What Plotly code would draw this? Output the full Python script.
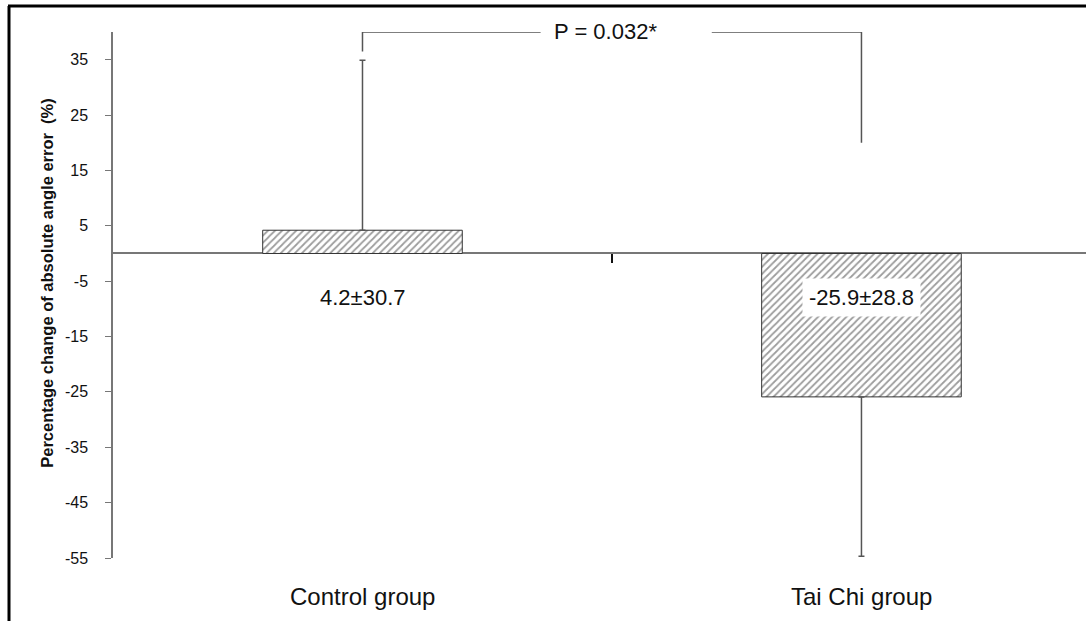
import plotly.graph_objects as go

# Group means and standard deviations (% change of absolute angle error)
groups = ["Control group", "Tai Chi group"]
means = [4.2, -25.9]
sds = [30.7, 28.8]
value_labels = ["4.2±30.7", "-25.9±28.8"]
p_label = "P = 0.032*"
y_title = "<b>Percentage change of absolute angle error \u00a0(%)</b>"

# Significance bracket: top level, foot levels, and the gap left for the label
bracket_top = 40
bracket_feet = [36.5, 20]
bracket_gap = [0.357, 0.70]

y_ticks = [35, 25, 15, 5, -5, -15, -25, -35, -45, -55]
y_ticktext = ["35", "25", "15", "5", "-5", "-15", "-25", "-35", "-45", "-55"]
y_range = [-55, 40]
x_range = [-0.5, 1.45]
label_y = -8.0

xpos = list(range(len(groups)))
font_family = "Arial, Liberation Sans, sans-serif"

# error bars point away from zero only
err_up = [s if m >= 0 else 0 for m, s in zip(means, sds)]
err_down = [s if m < 0 else 0 for m, s in zip(means, sds)]

fig = go.Figure()

fig.add_trace(go.Bar(
    x=xpos,
    y=means,
    width=0.4,
    marker=dict(
        color="white",
        line=dict(color="#333333", width=1),
        pattern=dict(shape="/", fgcolor="#3a3a3a", bgcolor="white",
                     size=5, solidity=0.35),
    ),
    error_y=dict(type="data", symmetric=False, array=err_up,
                 arrayminus=err_down, color="#555555", thickness=1.5, width=3),
    showlegend=False,
    hoverinfo="skip",
))

# significance bracket, split around the P label
fig.add_trace(go.Scatter(
    x=[xpos[0], xpos[0], bracket_gap[0], None, bracket_gap[1], xpos[1], xpos[1]],
    y=[bracket_feet[0], bracket_top, bracket_top, None, bracket_top, bracket_top,
       bracket_feet[1]],
    mode="lines",
    line=dict(color="#555555", width=1.5),
    cliponaxis=False,
    connectgaps=False,
    showlegend=False,
    hoverinfo="skip",
))

annotations = []
annotations.append(dict(
    x=(xpos[0] + xpos[1]) / 2, y=bracket_top, xref="x", yref="y",
    text=p_label, showarrow=False,
    xshift=-6, yshift=1,
    font=dict(family=font_family, size=22, color="#111111"),
))
for i, (x, lab) in enumerate(zip(xpos, value_labels)):
    annotations.append(dict(
        x=x, y=label_y, xref="x", yref="y", text=lab, showarrow=False,
        bgcolor="white" if means[i] < 0 else "rgba(0,0,0,0)",
        borderpad=6 if means[i] < 0 else 0,
        font=dict(family=font_family, size=22, color="#111111"),
    ))
for x, g in zip(xpos, groups):
    annotations.append(dict(
        x=x, y=-0.074, xref="x", yref="paper", text=g, showarrow=False,
        yanchor="middle",
        font=dict(family=font_family, size=24, color="#111111"),
    ))
# rotated y-axis title
annotations.append(dict(
    x=-0.068, y=0.523, xref="paper", yref="paper", text=y_title,
    showarrow=False, textangle=-90, xanchor="center", yanchor="middle",
    font=dict(family=font_family, size=16.5, color="#111111"),
))

zero_pos = (0 - y_range[0]) / (y_range[1] - y_range[0])

fig.update_layout(
    width=1086, height=621,
    margin=dict(l=113, r=0, t=32, b=63),
    paper_bgcolor="white", plot_bgcolor="white",
    annotations=annotations,
    xaxis=dict(
        range=x_range, anchor="free", position=zero_pos,
        showline=False, showgrid=False, zeroline=False,
        tickvals=[0.5], ticks="outside", ticklen=9, tickwidth=2,
        tickcolor="#111111", showticklabels=False,
    ),
    yaxis=dict(
        range=y_range, tickvals=y_ticks, ticktext=y_ticktext,
        showgrid=False, zeroline=True, zerolinecolor="#777777",
        zerolinewidth=2,
        showline=True, linecolor="#777777", linewidth=1.5,
        ticks="outside", ticklen=6, tickcolor="#777777",
        ticklabelstandoff=14,
        tickfont=dict(family=font_family, size=16, color="#111111"),
    ),
    shapes=[
        dict(type="line", xref="paper", yref="paper",
             x0=(9 - 113) / 973, x1=(9 - 113) / 973, y0=1 + 26 / 526, y1=-0.2,
             line=dict(color="black", width=3)),
        dict(type="line", xref="paper", yref="paper",
             x0=(8 - 113) / 973, x1=1.05, y0=1 + 26 / 526, y1=1 + 26 / 526,
             line=dict(color="black", width=3)),
    ],
)

fig.write_html("out.html")
